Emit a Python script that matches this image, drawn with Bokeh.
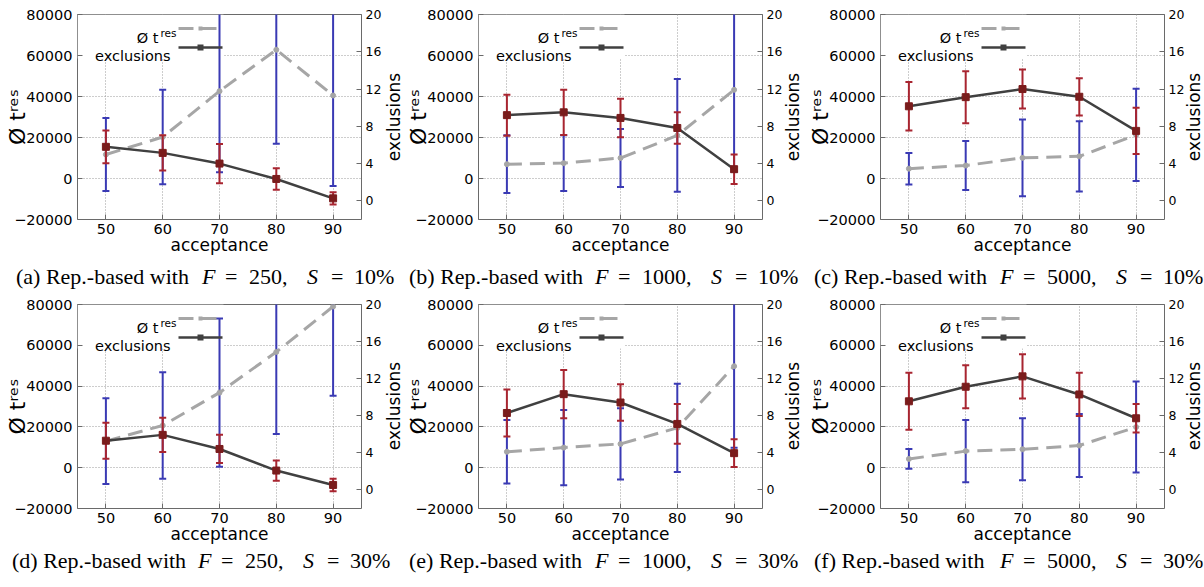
import math
from bokeh.plotting import figure
from bokeh.models import (Range1d, LinearAxis, FixedTicker, Label, Arrow,
                          BoxAnnotation, ColumnDataSource, Div)
from bokeh.layouts import row, column
from bokeh.embed import file_html
from bokeh.resources import INLINE

# ---------------- data ----------------
acceptance = [50, 60, 70, 80, 90]
y_ticks = [-20000, 0, 20000, 40000, 60000, 80000]
y2_ticks = [0, 4, 8, 12, 16, 20]

panel_letters = ["a", "b", "c", "d", "e", "f"]
F_values = [250, 1000, 5000]
S_values = [10, 30]

# mean of t^res and its error (std) per acceptance value
tres_a = [11700, 20250, 42600, 62800, 40500]
tres_a_err = [17800, 23000, 39500, 45900, 44200]
tres_b = [7000, 7500, 10000, 21000, 43250]
tres_b_err = [14100, 13600, 14200, 27500, 40000]
tres_c = [4800, 6340, 10080, 10800, 21220]
tres_c_err = [7700, 11900, 18700, 17150, 22500]
tres_d = [13000, 20700, 36800, 56750, 79000]
tres_d_err = [21000, 26100, 36300, 40200, 43700]
tres_e = [7800, 9850, 11650, 19500, 49760]
tres_e_err = [15600, 18450, 17450, 21600, 40000]
tres_f = [4310, 8130, 9025, 10900, 19900]
tres_f_err = [4800, 15280, 15200, 15450, 22300]

# exclusions and their error per acceptance value
exc_a = [5.8, 5.15, 4.0, 2.35, 0.27]
exc_a_err = [1.75, 1.88, 2.1, 1.15, 0.65]
exc_b = [9.2, 9.5, 8.9, 7.82, 3.4]
exc_b_err = [2.2, 2.43, 2.06, 1.7, 1.58]
exc_c = [10.15, 11.13, 12.0, 11.17, 7.51]
exc_c_err = [2.6, 2.79, 2.1, 2.0, 2.47]
exc_d = [5.31, 5.94, 4.42, 2.09, 0.54]
exc_d_err = [1.95, 1.86, 1.52, 1.09, 0.68]
exc_e = [8.3, 10.33, 9.43, 7.12, 3.97]
exc_e_err = [2.54, 2.6, 1.98, 2.15, 1.5]
exc_f = [9.56, 11.13, 12.25, 10.3, 7.73]
exc_f_err = [3.07, 2.33, 2.38, 2.33, 1.54]

tres_all = [tres_a, tres_b, tres_c, tres_d, tres_e, tres_f]
tres_err_all = [tres_a_err, tres_b_err, tres_c_err, tres_d_err, tres_e_err, tres_f_err]
exc_all = [exc_a, exc_b, exc_c, exc_d, exc_e, exc_f]
exc_err_all = [exc_a_err, exc_b_err, exc_c_err, exc_d_err, exc_e_err, exc_f_err]

# ---------------- style ----------------
GRAY = "#a6a6a6"
DARK = "#404040"
BLUE = "#3a3ab4"
RED = "#a82530"
MAROON = "#7a1c1c"
GRID = "#9a9a9a"
FRAME = "#6a6a6a"
SANS = "DejaVu Sans"

COL_W = [400, 400, 404]
ROW_H = [290, 297]
BL = [77, 77, 78]
BR = 22                      # right border of the plot (tick labels only)
FW = 284
FH = [205, 204]
BT = 14
BB = 45
EXC_BASELINE = [16, 14, 13]  # baseline of the rotated "exclusions" in its strip
CAP_X = [[16, 8, 12], [12, 8, 12]]
CAP_BASE_FROM_TOP = [20, 15]


def caption_div(idx, r, c):
    cap_h = ROW_H[r] - (BT + FH[r] + BB)
    Fv = F_values[c]
    Sv = S_values[r]
    extra = 11 * (len(str(Fv)) - 3)
    x0 = CAP_X[r][c]
    top = CAP_BASE_FROM_TOP[r] - 18.4
    pieces = [
        (0, "(%s) Rep.-based with" % panel_letters[idx], "normal"),
        (186, "F", "italic"),
        (209, "=", "normal"),
        (233, "%d," % Fv, "normal"),
        (291 + extra, "S", "italic"),
        (315 + extra, "=", "normal"),
        (338 + extra, "%d%%" % Sv, "normal"),
    ]
    spans = "".join(
        '<span style="position:absolute;left:%dpx;top:%.1fpx;font-style:%s;">%s</span>'
        % (x0 + dx, top, style, txt) for dx, txt, style in pieces)
    html = ('<div style="position:relative;width:%dpx;height:%dpx;'
            "font-family:'Liberation Serif';font-size:22px;line-height:22px;"
            'color:black;white-space:nowrap;">%s</div>' % (COL_W[c], cap_h, spans))
    return Div(text=html, width=COL_W[c], height=cap_h, margin=(0, 0, 0, 0))


def exclusions_div(r, c):
    w = COL_W[c] - BL[c] - FW - BR
    h = BT + FH[r] + BB
    left = EXC_BASELINE[c] - 14.4
    top = BT + FH[r] / 2 + 100
    html = ('<div style="position:relative;width:%dpx;height:%dpx;">'
            '<span style="position:absolute;left:%.1fpx;top:%.1fpx;width:200px;'
            'text-align:center;transform:rotate(-90deg);transform-origin:0 0;'
            "font-family:'DejaVu Sans';font-size:17px;line-height:17px;"
            'color:black;white-space:nowrap;">exclusions</span></div>'
            % (w, h, left, top))
    return Div(text=html, width=w, height=h, margin=(0, 0, 0, 0))


def make_panel(idx):
    r, c = divmod(idx, 3)
    fh = FH[r]
    tres, terr = tres_all[idx], tres_err_all[idx]
    exc, eerr = exc_all[idx], exc_err_all[idx]

    p = figure(frame_width=FW, frame_height=fh,
               x_range=Range1d(45, 95), y_range=Range1d(-20000, 80000),
               output_backend="svg", toolbar_location=None,
               min_border_left=BL[c], min_border_right=BR,
               min_border_top=BT, min_border_bottom=BB)
    p.extra_y_ranges = {"exc": Range1d(-2, 20)}
    p.background_fill_color = "white"
    p.border_fill_color = "white"
    p.outline_line_color = FRAME
    p.outline_line_width = 1

    # axes
    p.xaxis.ticker = FixedTicker(ticks=acceptance)
    p.yaxis.ticker = FixedTicker(ticks=y_ticks)
    ax2 = LinearAxis(y_range_name="exc", ticker=FixedTicker(ticks=y2_ticks))
    p.add_layout(ax2, "right")
    xa, ya = p.xaxis[0], p.yaxis[0]
    for ax in [xa, ya, ax2]:
        ax.axis_line_color = None
        ax.major_tick_in = 5
        ax.major_tick_out = 0
        ax.major_tick_line_color = FRAME
        ax.minor_tick_line_color = None
        ax.major_label_text_font = SANS
        ax.major_label_text_font_size = "14.5px"
        ax.major_label_text_color = "black"
        ax.major_label_standoff = 5
        ax.axis_label_text_font = SANS
        ax.axis_label_text_font_style = "normal"
        ax.axis_label_text_color = "black"
    xa.major_label_standoff = 4
    ax2.major_label_text_font_size = "12.5px"
    ax2.major_label_standoff = 4

    xa.axis_label = "acceptance"
    xa.axis_label_text_font_size = "17px"
    xa.axis_label_standoff = -2

    ya.axis_label = "Ø tʳᵉˢ"
    ya.axis_label_text_font_size = "22px"
    ya.axis_label_standoff = -19

    # grid
    p.xgrid.ticker = FixedTicker(ticks=acceptance)
    p.ygrid.ticker = FixedTicker(ticks=y_ticks)
    for g in [p.xgrid[0], p.ygrid[0]]:
        g.grid_line_color = GRID
        g.grid_line_dash = "1 2"
        g.grid_line_width = 1

    # legend background (covers grid)
    p.add_layout(BoxAnnotation(left=0, right=146, top=fh, bottom=fh - 44,
                               left_units="screen", right_units="screen",
                               top_units="screen", bottom_units="screen",
                               fill_color="white", fill_alpha=1.0,
                               line_color=None, level="underlay"))

    src = ColumnDataSource(dict(
        x=acceptance, tres=tres,
        tlo=[m - e for m, e in zip(tres, terr)],
        thi=[m + e for m, e in zip(tres, terr)],
        exc=exc,
        elo=[m - e for m, e in zip(exc, eerr)],
        ehi=[m + e for m, e in zip(exc, eerr)],
    ))

    # t^res dashed line + blue error bars
    p.line("x", "tres", source=src, line_color=GRAY, line_width=3,
           line_dash="15 8")
    p.segment(x0="x", y0="tlo", x1="x", y1="thi", source=src,
              line_color=BLUE, line_width=2)
    p.scatter("x", "tlo", source=src, marker="dash", size=7,
              line_color=BLUE, line_width=2)
    p.scatter("x", "thi", source=src, marker="dash", size=7,
              line_color=BLUE, line_width=2)
    p.scatter("x", "tres", source=src, marker="circle", size=5,
              fill_color=GRAY, line_color=GRAY)

    # exclusions solid line + red error bars
    p.line("x", "exc", source=src, line_color=DARK, line_width=2.5,
           y_range_name="exc")
    p.segment(x0="x", y0="elo", x1="x", y1="ehi", source=src,
              line_color=RED, line_width=2, y_range_name="exc")
    p.scatter("x", "elo", source=src, marker="dash", size=7,
              line_color=RED, line_width=2, y_range_name="exc")
    p.scatter("x", "ehi", source=src, marker="dash", size=7,
              line_color=RED, line_width=2, y_range_name="exc")
    p.scatter("x", "exc", source=src, marker="square", size=7,
              fill_color=MAROON, line_color=MAROON, y_range_name="exc")

    # legend (gnuplot style: text then sample)
    p.add_layout(Label(x=81, y=fh - 23, x_units="screen", y_units="screen",
                       text="Ø t", text_font=SANS, text_font_size="14.5px",
                       text_color="black",
                       text_align="right", text_baseline="alphabetic"))
    p.add_layout(Label(x=83, y=fh - 18, x_units="screen", y_units="screen",
                       text="res", text_font=SANS, text_font_size="10.5px",
                       text_color="black",
                       text_align="left", text_baseline="alphabetic"))
    p.add_layout(Label(x=93, y=fh - 41, x_units="screen", y_units="screen",
                       text="exclusions", text_font=SANS,
                       text_font_size="14.5px", text_color="black",
                       text_align="right", text_baseline="alphabetic"))
    p.add_layout(Arrow(x_start=101, y_start=fh - 14, x_end=145, y_end=fh - 14,
                       start_units="screen", end_units="screen", end=None,
                       line_color=GRAY, line_width=3, line_dash="15 8"))
    p.add_layout(BoxAnnotation(left=121, right=125, top=fh - 12, bottom=fh - 16,
                               left_units="screen", right_units="screen",
                               top_units="screen", bottom_units="screen",
                               fill_color=GRAY, fill_alpha=1.0, line_color=None))
    p.add_layout(Arrow(x_start=101, y_start=fh - 33, x_end=145, y_end=fh - 33,
                       start_units="screen", end_units="screen", end=None,
                       line_color=DARK, line_width=2.5))
    p.add_layout(BoxAnnotation(left=120, right=126, top=fh - 30, bottom=fh - 36,
                               left_units="screen", right_units="screen",
                               top_units="screen", bottom_units="screen",
                               fill_color=DARK, fill_alpha=1.0, line_color=None))

    return column(row(p, exclusions_div(r, c)), caption_div(idx, r, c))


panels = [make_panel(i) for i in range(6)]
layout = column(row(*panels[:3]), row(*panels[3:]))

open("out.html", "w").write(file_html(layout, INLINE))
